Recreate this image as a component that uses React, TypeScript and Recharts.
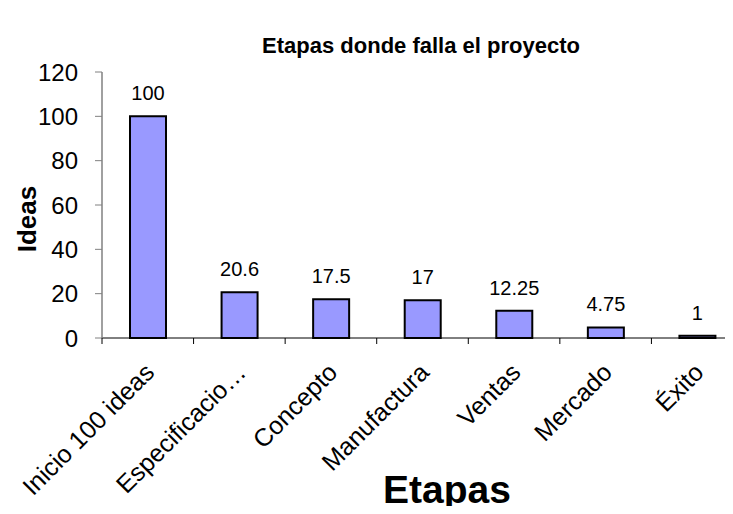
import { BarChart, Bar, XAxis, YAxis, LabelList } from 'recharts';

const etapas = ['Inicio 100 ideas', 'Especificacio…', 'Concepto', 'Manufactura', 'Ventas', 'Mercado', 'Éxito'];
const ideas = [100, 20.6, 17.5, 17, 12.25, 4.75, 1];
const yTicks = [0, 20, 40, 60, 80, 100, 120];

const data = etapas.map((etapa, i) => ({ etapa, ideas: ideas[i] }));

const CHART_W = 750;
const CHART_H = 514;
const Y_AXIS_W = 102;
const MARGIN = { top: 72, right: 7, bottom: 0, left: 0 };
const PLOT_H = 266;
const BAND = (CHART_W - Y_AXIS_W - MARGIN.left - MARGIN.right) / etapas.length;
const FONT = 'Arial, "Liberation Sans", sans-serif';

function EtapaTick(props: any) {
  const { x, y, payload } = props;
  const axisY = y - 6;
  const left = x - BAND / 2;
  return (
    <g>
      <line x1={left} y1={axisY} x2={left} y2={axisY + 6} stroke="#000" strokeWidth={1} />
      <text
        transform={`translate(${x + 8},${y + 30}) rotate(-45)`}
        textAnchor="end"
        fontSize={25}
        fontFamily={FONT}
        fill="#000"
      >
        {payload.value}
      </text>
    </g>
  );
}

export default function App() {
  return (
    <div
      style={{
        position: 'relative',
        width: 733,
        height: 514,
        margin: -8,
        overflow: 'hidden',
        background: '#fff',
        fontFamily: FONT,
      }}
    >
      <div
        style={{
          position: 'absolute',
          left: 0,
          width: 842,
          top: 33,
          textAlign: 'center',
          fontWeight: 'bold',
          fontSize: 22,
          lineHeight: '26px',
        }}
      >
        Etapas donde falla el proyecto
      </div>
      <div
        style={{
          position: 'absolute',
          left: 27,
          top: 219,
          transform: 'translate(-50%, -50%) rotate(-90deg)',
          fontWeight: 'bold',
          fontSize: 26,
          lineHeight: '30px',
          whiteSpace: 'nowrap',
        }}
      >
        Ideas
      </div>
      <div
        style={{
          position: 'absolute',
          left: 447,
          top: 490,
          transform: 'translate(-50%, -50%)',
          fontWeight: 'bold',
          fontSize: 39,
          lineHeight: '44px',
          whiteSpace: 'nowrap',
        }}
      >
        Etapas
      </div>
      <BarChart width={CHART_W} height={CHART_H} data={data} margin={MARGIN}>
        <XAxis
          dataKey="etapa"
          interval={0}
          height={CHART_H - MARGIN.top - PLOT_H}
          axisLine={{ stroke: '#000', strokeWidth: 1 }}
          tickLine={false}
          tickSize={6}
          tickMargin={0}
          tick={<EtapaTick />}
        />
        <YAxis
          width={Y_AXIS_W}
          domain={[0, 120]}
          ticks={yTicks}
          interval={0}
          axisLine={{ stroke: '#808080', strokeWidth: 1.5 }}
          tickLine={{ stroke: '#808080' }}
          tickSize={7}
          tickMargin={17}
          tick={{ fill: '#000', fontSize: 24, fontFamily: FONT }}
        />
        <Bar
          dataKey="ideas"
          fill="#9999FF"
          stroke="#000"
          strokeWidth={2}
          barSize={36}
          isAnimationActive={false}
        >
          <LabelList
            dataKey="ideas"
            position="top"
            offset={16}
            fill="#000"
            fontSize={20}
            fontFamily={FONT}
          />
        </Bar>
      </BarChart>
    </div>
  );
}
